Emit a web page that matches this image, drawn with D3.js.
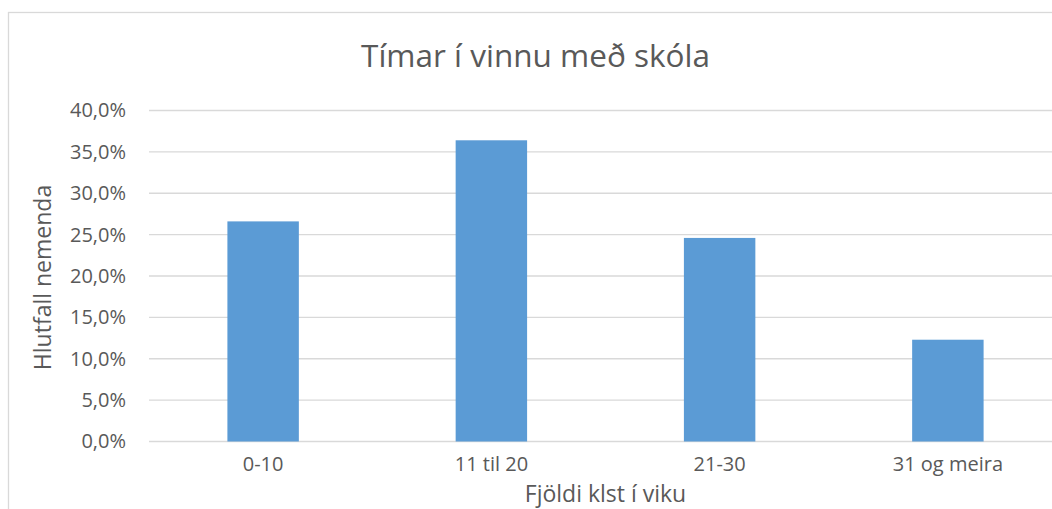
<!DOCTYPE html>
<html>
<head>
<meta charset="utf-8">
<script src="https://cdn.jsdelivr.net/npm/d3@7"></script>
<style>
  body { margin: 0; background: #fff; }
  svg text { font-family: "Open Sans", sans-serif; fill: #595959; }
</style>
</head>
<body>
<svg id="chart"></svg>
<script>
// Data
const categories = ['0-10', '11 til 20', '21-30', '31 og meira'];
const shares = [26.6, 36.4, 24.6, 12.3];
const yTicks = [0, 5, 10, 15, 20, 25, 30, 35, 40];

class BarChart {

  constructor(_config, _data) {
    this.config = {
      parentElement: _config.parentElement,
      containerWidth: _config.containerWidth || 1052,
      containerHeight: _config.containerHeight || 509,
      margin: _config.margin || {top: 110.5, right: -10, bottom: 67.5, left: 149}
    }
    this.data = _data;
    this.initVis();
  }

  initVis() {
    let vis = this;

    vis.width = vis.config.containerWidth - vis.config.margin.left - vis.config.margin.right;
    vis.height = vis.config.containerHeight - vis.config.margin.top - vis.config.margin.bottom;

    vis.svg = d3.select(vis.config.parentElement)
        .attr('width', vis.config.containerWidth)
        .attr('height', vis.config.containerHeight);

    // Chart border (runs off the right and bottom edges)
    vis.svg.append('rect')
        .attr('x', 8.5)
        .attr('y', 12.5)
        .attr('width', 1100)
        .attr('height', 600)
        .attr('fill', 'none')
        .attr('stroke', '#d9d9d9')
        .attr('stroke-width', 1.3);

    vis.chart = vis.svg.append('g')
        .attr('transform', `translate(${vis.config.margin.left},${vis.config.margin.top})`);

    vis.xScale = d3.scaleBand()
        .domain(vis.data.map(d => d.category))
        .range([0, vis.width])
        .paddingInner(0.687)
        .paddingOuter(0.3435);

    vis.yScale = d3.scaleLinear()
        .domain([0, 40])
        .range([vis.height, 0]);

    vis.gridG = vis.chart.append('g').attr('class', 'grid');
    vis.barsG = vis.chart.append('g').attr('class', 'bars');
    vis.axisG = vis.chart.append('g').attr('class', 'axes');

    // Title
    vis.svg.append('text')
        .attr('x', 535.5)
        .attr('y', 67)
        .attr('text-anchor', 'middle')
        .style('font-size', '31.5px')
        .text('Tímar í vinnu með skóla');

    // Axis titles
    vis.chart.append('text')
        .attr('x', vis.width / 2)
        .attr('y', vis.height + 60)
        .attr('text-anchor', 'middle')
        .style('font-size', '23px')
        .text('Fjöldi klst í viku');

    vis.svg.append('text')
        .attr('transform', 'translate(51,277.5) rotate(-90)')
        .attr('text-anchor', 'middle')
        .style('font-size', '23px')
        .text('Hlutfall nemenda');

    vis.renderVis();
  }

  renderVis() {
    let vis = this;

    // Gridlines
    vis.gridG.selectAll('line')
        .data(yTicks)
      .join('line')
        .attr('x1', 0)
        .attr('x2', vis.width)
        .attr('y1', d => vis.yScale(d))
        .attr('y2', d => vis.yScale(d))
        .attr('stroke', '#d9d9d9')
        .attr('stroke-width', 1.3);

    // Bars
    vis.barsG.selectAll('.bar')
        .data(vis.data)
      .join('rect')
        .attr('class', 'bar')
        .attr('x', d => vis.xScale(d.category))
        .attr('width', vis.xScale.bandwidth())
        .attr('y', d => vis.yScale(d.value))
        .attr('height', d => vis.height - vis.yScale(d.value))
        .attr('fill', '#5b9bd5');

    // Y tick labels
    const fmt = d => d.toFixed(1).replace('.', ',') + '%';
    const yAxis = d3.axisLeft(vis.yScale)
        .tickValues(yTicks)
        .tickSize(0)
        .tickPadding(23)
        .tickFormat(fmt);
    vis.axisG.append('g')
        .call(yAxis)
        .call(g => g.select('.domain').remove())
        .selectAll('text')
        .style('font-size', '20px')
        .attr('fill', '#595959');

    // X tick labels
    const xAxis = d3.axisBottom(vis.xScale).tickSize(0).tickPadding(15);
    vis.axisG.append('g')
        .attr('transform', `translate(0,${vis.height})`)
        .call(xAxis)
        .call(g => g.select('.domain').remove())
        .selectAll('text')
        .style('font-size', '20px')
        .attr('fill', '#595959');
  }
}

const data = categories.map((c, i) => ({category: c, value: shares[i]}));
new BarChart({parentElement: '#chart'}, data);
</script>
</body>
</html>
